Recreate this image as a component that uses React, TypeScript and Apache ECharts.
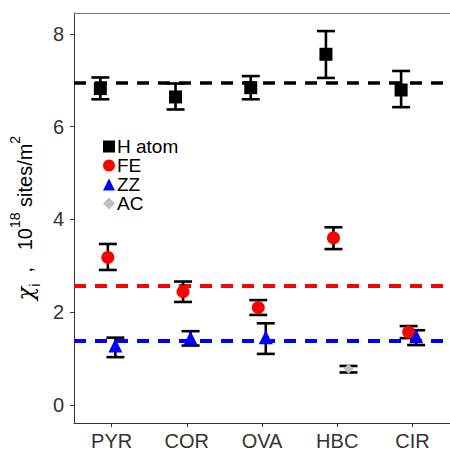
import React, { useEffect, useRef } from "react";
import * as echarts from "echarts";

const categories = ["PYR", "COR", "OVA", "HBC", "CIR"];
const seriesNames = ["H atom", "FE", "ZZ", "AC"];

const hAtom = [6.82, 6.64, 6.84, 7.56, 6.79];
const hAtomLow = [6.59, 6.37, 6.59, 7.05, 6.42];
const hAtomHigh = [7.06, 6.93, 7.09, 8.06, 7.2];

const fe = [3.18, 2.44, 2.1, 3.6, 1.57];
const feLow = [2.91, 2.22, 1.94, 3.36, 1.44];
const feHigh = [3.47, 2.66, 2.26, 3.83, 1.7];

const zz = [1.28, 1.44, 1.46, null, 1.48];
const zzLow = [1.03, 1.28, 1.1, null, 1.29];
const zzHigh = [1.45, 1.59, 1.76, null, 1.61];

const ac = [null, null, null, 0.78, null];
const acLow = [null, null, null, 0.7, null];
const acHigh = [null, null, null, 0.84, null];

const hAtomRef = 6.95;
const feRef = 2.57;
const zzRef = 1.38;

const yTicks = [0, 2, 4, 6, 8];

const FONT = "Liberation Sans, Arial, sans-serif";

function pts(vals: (number | null)[], off: number) {
  const out: number[][] = [];
  vals.forEach((v, i) => {
    if (v !== null) out.push([i + off, v]);
  });
  return out;
}
function bars(lo: (number | null)[], hi: (number | null)[], off: number) {
  const out: number[][] = [];
  lo.forEach((l, i) => {
    const h = hi[i];
    if (l !== null && h !== null) out.push([i + off, l, h]);
  });
  return out;
}

const CAP = 9;
function renderErr(params: any, api: any) {
  const x = api.value(0);
  const lo = api.value(1);
  const hi = api.value(2);
  const pH = api.coord([x, hi]);
  const pL = api.coord([x, lo]);
  const style = { stroke: "#000", lineWidth: 2.6 };
  return {
    type: "group",
    children: [
      { type: "line", shape: { x1: pH[0], y1: pH[1], x2: pL[0], y2: pL[1] }, style },
      { type: "line", shape: { x1: pH[0] - CAP, y1: pH[1], x2: pH[0] + CAP, y2: pH[1] }, style },
      { type: "line", shape: { x1: pL[0] - CAP, y1: pL[1], x2: pL[0] + CAP, y2: pL[1] }, style },
    ],
  };
}

function refLine(value: number, color: string, width: number) {
  return {
    silent: true,
    symbol: "none",
    label: { show: false },
    z: 1,
    data: [{ yAxis: value }],
    lineStyle: { color, width, type: [12, 9], opacity: 1 },
    emphasis: { disabled: true },
  };
}

const offsets = [-0.15, -0.05, 0.05, 0.15];

export default function App() {
  const ref = useRef<HTMLDivElement>(null);
  useEffect(() => {
    if (!ref.current) return;
    const chart = echarts.init(ref.current, undefined, { renderer: "svg" });
    const errSeries = [
      bars(hAtomLow, hAtomHigh, offsets[0]),
      bars(feLow, feHigh, offsets[1]),
      bars(zzLow, zzHigh, offsets[2]),
      bars(acLow, acHigh, offsets[3]),
    ].map((d, k) => ({
      type: "custom",
      name: "err" + k,
      xAxisIndex: 1,
      yAxisIndex: 0,
      renderItem: renderErr,
      data: d,
      encode: { x: 0, y: [1, 2] },
      z: 2,
      silent: true,
    }));
    chart.setOption({
      animation: false,
      textStyle: { fontFamily: FONT },
      grid: { left: 69, top: 13, width: 389, height: 411, containLabel: false },
      legend: {
        orient: "vertical",
        left: 98,
        top: 132,
        itemWidth: 12,
        itemHeight: 12,
        itemGap: 0,
        data: seriesNames,
        textStyle: { fontSize: 19, color: "#000", fontFamily: FONT, lineHeight: 19, padding: [0, 0, 0, -3] },
      },
      xAxis: [
        {
          type: "category",
          data: categories,
          position: "bottom",
          axisLine: { show: true, onZero: false, lineStyle: { color: "#333", width: 1 } },
          axisTick: { show: true, alignWithLabel: true, length: 4, lineStyle: { color: "#333" } },
          axisLabel: { fontSize: 20, color: "#333", margin: 8, fontFamily: FONT },
          splitLine: { show: false },
        },
        {
          type: "value",
          min: -0.5,
          max: 4.5,
          show: false,
        },
        {
          type: "category",
          data: categories,
          position: "top",
          axisLine: { show: true, onZero: false, lineStyle: { color: "#777", width: 1 } },
          axisTick: { show: false },
          axisLabel: { show: false },
        },
      ],
      yAxis: {
        type: "value",
        min: -0.39,
        max: 8.45,
        axisLine: { show: true, onZero: false, lineStyle: { color: "#333", width: 1 } },
        axisTick: { show: true, length: 4, customValues: yTicks, lineStyle: { color: "#333" } },
        axisLabel: { fontSize: 20, color: "#333", margin: 10, customValues: yTicks, fontFamily: FONT },
        splitLine: { show: false },
        name: "{chi|χ}{sub|i}{t|  ,   10}{sup|18}{t| sites/m}{sup|2}",
        nameLocation: "middle",
        nameRotate: 90,
        nameGap: 21,
        nameTextStyle: {
          fontFamily: FONT,
          color: "#000",
          rich: {
            chi: { fontSize: 22, lineHeight: 34, fontFamily: "DejaVu Serif", fontStyle: "italic", color: "#000" },
            sub: { fontSize: 14, lineHeight: 14, verticalAlign: "bottom", color: "#000", fontFamily: FONT },
            t: { fontSize: 20, lineHeight: 34, color: "#000", fontFamily: FONT },
            sup: { fontSize: 14, lineHeight: 14, verticalAlign: "top", color: "#000", fontFamily: FONT },
          },
        },
      },
      series: [
        ...errSeries,
        {
          type: "scatter",
          name: seriesNames[0],
          xAxisIndex: 1,
          symbol: "rect",
          symbolSize: 13,
          itemStyle: { color: "#000", opacity: 1 },
          data: pts(hAtom, offsets[0]),
          z: 3,
          markLine: refLine(hAtomRef, "#000", 3.5),
        },
        {
          type: "scatter",
          name: seriesNames[1],
          xAxisIndex: 1,
          symbol: "circle",
          symbolSize: 13,
          itemStyle: { color: "#FF0000", opacity: 1 },
          data: pts(fe, offsets[1]),
          z: 3,
          markLine: refLine(feRef, "#FF0000", 4),
        },
        {
          type: "scatter",
          name: seriesNames[2],
          xAxisIndex: 1,
          symbol: "triangle",
          symbolSize: 14,
          itemStyle: { color: "#0000FF", opacity: 1 },
          data: pts(zz, offsets[2]),
          z: 3,
          markLine: refLine(zzRef, "#0000FF", 4),
        },
        {
          type: "scatter",
          name: seriesNames[3],
          xAxisIndex: 1,
          symbol: "diamond",
          symbolSize: 10,
          itemStyle: { color: "#BEBEBE", opacity: 1 },
          data: pts(ac, offsets[3]),
          z: 3,
        },
      ],
    });
    return () => chart.dispose();
  }, []);
  return <div ref={ref} style={{ width: 450, height: 451, position: "absolute", left: 0, top: 0 }} />;
}
